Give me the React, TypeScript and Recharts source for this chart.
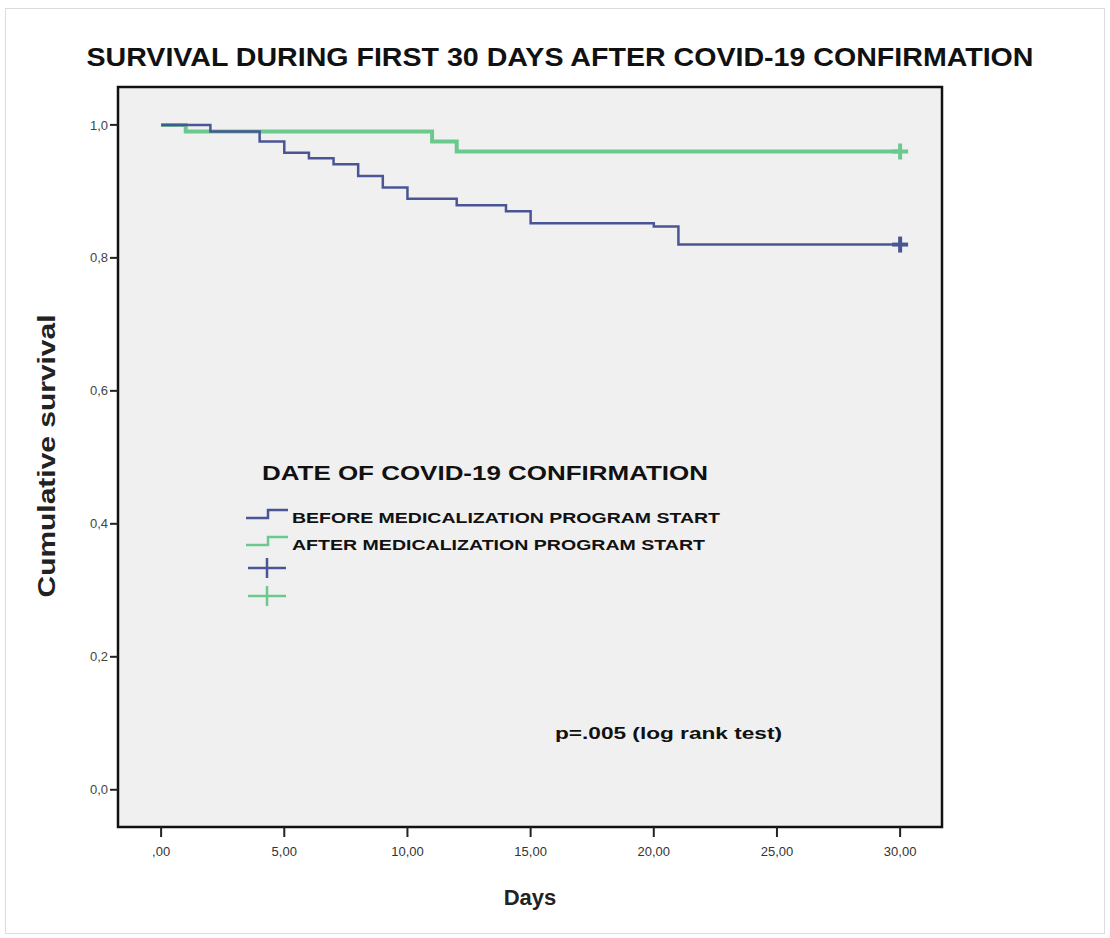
import { CartesianGrid, Line, LineChart, ReferenceArea, XAxis, YAxis } from "recharts";

// Kaplan-Meier steps
const beforeDays = [0, 2, 4, 5, 6, 7, 8, 9, 10, 12, 14, 15, 20, 21, 30];
const beforeSurvival = [1.0, 0.99, 0.975, 0.958, 0.95, 0.941, 0.923, 0.906, 0.889, 0.879, 0.87, 0.852, 0.847, 0.82, 0.82];
const afterDays = [0, 1, 11, 12, 30];
const afterSurvival = [1.0, 0.99, 0.975, 0.96, 0.96];

const xTicks = [0, 5, 10, 15, 20, 25, 30];
const yTicks = [0, 0.2, 0.4, 0.6, 0.8, 1.0];

const seriesNames = ["BEFORE MEDICALIZATION PROGRAM START", "AFTER MEDICALIZATION PROGRAM START"];
const legendTitle = "DATE OF COVID-19 CONFIRMATION";
const chartTitle = "SURVIVAL DURING FIRST 30 DAYS AFTER COVID-19 CONFIRMATION";
const testNote = "p=.005 (log rank test)";

const BLUE = "#4a5596";
const GREEN = "#6cc98e";
const FONT = "'Liberation Sans', Arial, sans-serif";

const beforeData = beforeDays.map((d, i) => ({ day: d, value: beforeSurvival[i] }));
const afterData = afterDays.map((d, i) => ({ day: d, value: afterSurvival[i] }));

const fmtX = (v: number) => (v === 0 ? ",00" : v.toFixed(2).replace(".", ","));
const fmtY = (v: number) => v.toFixed(1).replace(".", ",");

function censorDot(color: string, lastIndex: number) {
  return (props: any) => {
    const { cx, cy, index } = props;
    if (index !== lastIndex) return <g key={`d-${index}`} />;
    return (
      <g key={`d-${index}`}>
        <line x1={cx - 8} x2={cx + 8} y1={cy} y2={cy} stroke={color} strokeWidth={4} />
        <line x1={cx} x2={cx} y1={cy - 8} y2={cy + 8} stroke={color} strokeWidth={4} />
      </g>
    );
  };
}

function LegendBlock() {
  const stepGlyph = (y: number, color: string) => (
    <path d={`M246 ${y + 4} H268 V${y - 4} H288`} fill="none" stroke={color} strokeWidth={2.5} />
  );
  const plusGlyph = (y: number, color: string) => (
    <g>
      <line x1={248} x2={286} y1={y} y2={y} stroke={color} strokeWidth={2.5} />
      <line x1={267} x2={267} y1={y - 10} y2={y + 10} stroke={color} strokeWidth={2.5} />
    </g>
  );
  return (
    <g fontFamily={FONT} fontWeight="bold" fill="#111">
      <text x={262} y={480} fontSize={20} textLength={446} lengthAdjust="spacingAndGlyphs">
        {legendTitle}
      </text>
      {stepGlyph(514, BLUE)}
      <text x={292} y={523} fontSize={15} textLength={428} lengthAdjust="spacingAndGlyphs">
        {seriesNames[0]}
      </text>
      {stepGlyph(541, GREEN)}
      <text x={292} y={550} fontSize={15} textLength={413} lengthAdjust="spacingAndGlyphs">
        {seriesNames[1]}
      </text>
      {plusGlyph(568, BLUE)}
      {plusGlyph(596, GREEN)}
    </g>
  );
}

export default function App() {
  return (
    <div style={{ width: 1110, height: 938, position: "relative", background: "#fff" }}>
      <style>{"body{margin:0}"}</style>
      <div
        style={{
          position: "absolute",
          left: 5,
          top: 8,
          width: 1100,
          height: 926,
          border: "1px solid #dcdcdc",
          boxSizing: "border-box",
        }}
      />
      <LineChart
        width={1110}
        height={938}
        margin={{ top: 87, right: 168, left: 58, bottom: 61 }}
        style={{ position: "absolute", left: 0, top: 0 }}
      >
        <CartesianGrid fill="#f0f0f0" horizontal={false} vertical={false} />
        <XAxis
          type="number"
          dataKey="day"
          domain={[-1.75, 31.7]}
          ticks={xTicks}
          tickFormatter={fmtX}
          allowDataOverflow
          height={50}
          axisLine={false}
          tickLine={{ stroke: "#222", strokeWidth: 2 }}
          tickSize={10}
          tick={{ fontSize: 13, fill: "#333", fontFamily: FONT, dy: 8 }}
          label={{ value: "Days", position: "insideBottom", offset: -28, fontSize: 22, fontWeight: "bold", fill: "#222", fontFamily: FONT }}
        />
        <YAxis
          type="number"
          domain={[-0.056, 1.057]}
          ticks={yTicks}
          tickFormatter={fmtY}
          allowDataOverflow
          width={60}
          axisLine={false}
          tickLine={{ stroke: "#222", strokeWidth: 2 }}
          tickSize={8}
          tick={{ fontSize: 13, fill: "#444", fontFamily: FONT }}
        />
        <ReferenceArea
          x1={-1.75}
          x2={31.7}
          y1={-0.056}
          y2={1.057}
          fill="none"
          stroke="#111"
          strokeWidth={2.5}
          ifOverflow="visible"
        />
        <Line
          data={afterData}
          dataKey="value"
          type="stepAfter"
          stroke={GREEN}
          strokeWidth={4}
          dot={censorDot(GREEN, afterData.length - 1)}
          isAnimationActive={false}
        />
        <Line
          data={beforeData}
          dataKey="value"
          type="stepAfter"
          stroke={BLUE}
          strokeWidth={2.5}
          dot={censorDot(BLUE, beforeData.length - 1)}
          isAnimationActive={false}
        />
        <text
          x={560}
          y={66}
          textAnchor="middle"
          fontFamily={FONT}
          fontWeight="bold"
          fontSize={25}
          fill="#111"
          textLength={947}
          lengthAdjust="spacingAndGlyphs"
        >
          {chartTitle}
        </text>
        <text
          transform="translate(55 456) rotate(-90)"
          textAnchor="middle"
          fontFamily={FONT}
          fontWeight="bold"
          fontSize={23}
          fill="#222"
          textLength={283}
          lengthAdjust="spacingAndGlyphs"
        >
          Cumulative survival
        </text>
        <LegendBlock />
        <text
          x={555}
          y={739}
          fontFamily={FONT}
          fontWeight="bold"
          fontSize={16}
          fill="#111"
          textLength={227}
          lengthAdjust="spacingAndGlyphs"
        >
          {testNote}
        </text>
      </LineChart>
    </div>
  );
}
